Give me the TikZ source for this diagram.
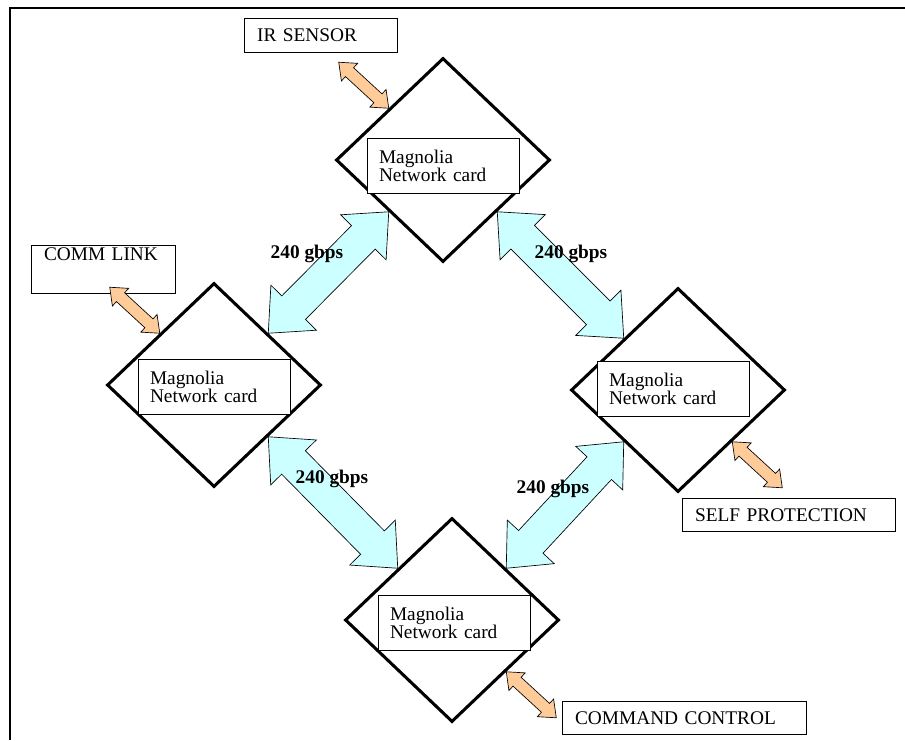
\documentclass[tikz,border=0pt]{standalone}
\usepackage{fontspec}
\setmainfont{Liberation Serif}
\usetikzlibrary{shapes.geometric, calc}

\definecolor{linkcyan}{HTML}{CCFFFF}
\definecolor{feedorange}{HTML}{FFCC99}

% block double arrow: style, from, to, shaft half width, head half width, head length
\newcommand\fatarrow[6]{%
  \coordinate (fa1) at ($(#2)!#6!(#3)$);
  \coordinate (fa2) at ($(#3)!#6!(#2)$);
  \draw[#1] (#2) -- ($(fa1)!#5!90:(#2)$) -- ($(fa1)!#4!90:(#2)$)
    -- ($(fa2)!#4!-90:(#3)$) -- ($(fa2)!#5!-90:(#3)$) -- (#3)
    -- ($(fa2)!#5!90:(#3)$) -- ($(fa2)!#4!90:(#3)$)
    -- ($(fa1)!#4!-90:(#2)$) -- ($(fa1)!#5!-90:(#2)$) -- cycle;
}

\begin{document}
\begin{tikzpicture}[x=0.75pt, y=-0.75pt]

\tikzset{hub/.style = {shape=diamond, draw, line width=2.3pt, minimum width=160.5pt, minimum height=153pt, inner sep=0pt}}
\tikzset{card/.style = {draw, fill=white, line width=0.6pt, text width=96pt, inner xsep=9pt, minimum height=41pt, align=left, font=\fontsize{14.5}{14}\selectfont}}
\tikzset{tag/.style = {draw, fill=white, line width=0.6pt, anchor=north west, inner xsep=9.5pt, align=left, font=\fontsize{14.5}{14}\selectfont}}
\tikzset{rate/.style = {font=\fontsize{14.5}{14}\selectfont\bfseries}}
\tikzset{link/.style = {draw=black, line width=0.5pt, fill=linkcyan}}
\tikzset{feed/.style = {draw=black, line width=0.5pt, fill=feedorange}}

\useasboundingbox (0,0) rectangle (905,740);
\draw[line width=2pt] (905,8) -- (10,8) -- (10,740);

%hubs
\node[hub] (hubT) at (443,160) {};
\node[hub] (hubL) at (214,385) {};
\node[hub] (hubR) at (678,390) {};
\node[hub] (hubB) at (452,620) {};

%cards
\node[card] (cardT) at (443,166) {Magnolia\\Network card};
\node[card] (cardL) at (214,387) {Magnolia\\Network card};
\node[card] (cardR) at (673,389) {Magnolia\\Network card};
\node[card] (cardB) at (454,623) {Magnolia\\Network card};

%outside units
\node[tag, text width=95.75pt, minimum height=25.5pt] (irSensor) at (244,18) {IR SENSOR};
\node[tag, text width=89pt, inner ysep=0pt, text height=11pt, text depth=25pt] (commLink) at (31,245) {COMM LINK};
\node[tag, text width=140.75pt, minimum height=24.75pt] (selfProt) at (682,498) {SELF PROTECTION};
\node[tag, text width=164pt, minimum height=24.75pt] (cmdCtrl) at (562,701) {COMMAND CONTROL};

%links
\fatarrow{link}{hubT.south west}{hubL.north east}{12.5pt}{24pt}{27pt}
\fatarrow{link}{hubT.south east}{hubR.north west}{12.5pt}{24pt}{27pt}
\fatarrow{link}{hubL.south east}{hubB.north west}{12.5pt}{24pt}{27pt}
\fatarrow{link}{hubR.south west}{hubB.north east}{12.5pt}{24pt}{27pt}

\node[rate] (rateTL) at (307,254) {240 gbps};
\node[rate] (rateTR) at (571,254) {240 gbps};
\node[rate] (rateBL) at (332,479) {240 gbps};
\node[rate] (rateBR) at (553,489) {240 gbps};

%feeds
\coordinate (irEnd) at ($(hubT.north west)+(-50,-46)$);
\coordinate (commEnd) at ($(hubL.north west)+(-50,-46)$);
\coordinate (selfEnd) at ($(hubR.south east)+(50,46)$);
\coordinate (cmdEnd) at ($(hubB.south east)+(50,46)$);
\fatarrow{feed}{irEnd}{hubT.north west}{4.5pt}{9pt}{11pt}
\fatarrow{feed}{commEnd}{hubL.north west}{4.5pt}{9pt}{11pt}
\fatarrow{feed}{hubR.south east}{selfEnd}{4.5pt}{9pt}{11pt}
\fatarrow{feed}{hubB.south east}{cmdEnd}{4.5pt}{9pt}{11pt}

\end{tikzpicture}
\end{document}
